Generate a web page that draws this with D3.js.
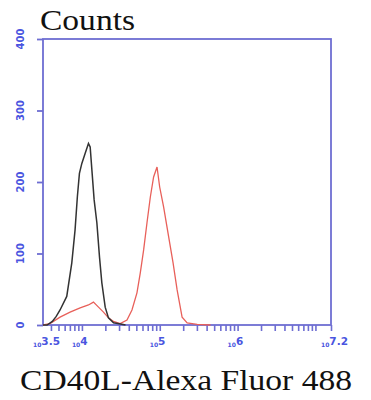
<!DOCTYPE html>
<html>
<head>
<meta charset="utf-8">
<script src="https://cdn.jsdelivr.net/npm/d3@7"></script>
<style>
  body { margin: 0; background: #fff; }
  svg { display: block; }
</style>
</head>
<body>
<svg id="chart" width="371" height="400"></svg>
<script>
// log10 of fluorescence and event counts
var blackLog = [3.5, 3.552, 3.62, 3.67, 3.719, 3.805, 3.870, 3.912, 3.942, 3.968, 3.999, 4.041, 4.084, 4.106, 4.128, 4.157, 4.192, 4.226, 4.256, 4.299, 4.341, 4.406, 4.514, 4.56];
var blackCounts = [0, 0, 5, 12, 21, 40, 87, 133, 180, 212, 226, 240, 254, 249, 217, 175, 143, 95, 59, 25, 10, 3, 1, 0];

var redLog = [3.5, 3.590, 3.719, 3.848, 3.977, 4.084, 4.148, 4.213, 4.277, 4.341, 4.406, 4.492, 4.579, 4.643, 4.707, 4.750, 4.793, 4.836, 4.879, 4.921, 4.965, 4.999, 5.050, 5.115, 5.171, 5.223, 5.287, 5.352, 5.481, 5.652];
var redCounts = [0, 2, 11, 18, 24, 28, 32, 25, 18, 10, 5, 2, 7, 21, 45, 73, 105, 143, 179, 207, 221, 193, 165, 123, 87, 49, 11, 3, 1, 0];

var yTicks = [0, 100, 200, 300, 400];
var xLabelExps = ["3.5", "4", "5", "6", "7.2"];

const axisColor = "#6e6ed2";
const labelColor = "#4a55e0";

const margin = { top: 39, right: 40, bottom: 75, left: 43 };
const width = 371, height = 400;

const svg = d3.select("#chart");

const x = d3.scaleLog()
  .domain([Math.pow(10, 3.5), Math.pow(10, 7.2)])
  .range([margin.left, width - margin.right]);

const y = d3.scaleLinear()
  .domain([0, 400])
  .range([height - margin.bottom, margin.top]);

// frame
svg.append("rect")
  .attr("x", margin.left)
  .attr("y", margin.top)
  .attr("width", width - margin.right - margin.left)
  .attr("height", height - margin.bottom - margin.top)
  .attr("fill", "none")
  .attr("stroke", axisColor)
  .attr("stroke-width", 1.8);

// y axis
const yAxis = svg.append("g")
  .attr("transform", `translate(${margin.left},0)`)
  .call(d3.axisLeft(y).tickValues(yTicks).tickSize(6).tickFormat(""));
yAxis.select(".domain").remove();
yAxis.selectAll("line").attr("stroke", axisColor).attr("stroke-width", 1.8);

svg.selectAll(".ylab")
  .data(yTicks)
  .enter().append("text")
  .attr("class", "ylab")
  .attr("transform", d => `translate(24,${y(d)}) rotate(-90)`)
  .attr("text-anchor", "middle")
  .attr("font-family", "DejaVu Sans")
  .attr("font-size", 10)
  .attr("font-weight", "bold")
  .attr("fill", labelColor)
  .text(d => d);

// x axis minor ticks: 2..9 x each decade, plus the ends
const xTickVals = [];
for (let e = 3; e <= 7; e++) {
  for (let m = 1; m <= 9; m++) {
    const v = m * Math.pow(10, e);
    if (v > x.domain()[0] && v < x.domain()[1]) xTickVals.push(v);
  }
}
xTickVals.push(x.domain()[1]);

const xAxis = svg.append("g")
  .attr("transform", `translate(0,${height - margin.bottom})`)
  .call(d3.axisBottom(x).tickValues(xTickVals).tickSize(6).tickFormat(""));
xAxis.select(".domain").remove();
xAxis.selectAll("line").attr("stroke", axisColor).attr("stroke-width", 1.6);

const xl = svg.selectAll(".xlab")
  .data(xLabelExps)
  .enter().append("text")
  .attr("class", "xlab")
  .attr("x", d => x(Math.pow(10, +d)) - 10)
  .attr("y", height - margin.bottom + 22)
  .attr("font-family", "DejaVu Sans")
  .attr("font-weight", "bold")
  .attr("fill", labelColor);
xl.append("tspan").attr("font-size", 6).text("10");
xl.append("tspan").attr("font-size", 10.5).attr("dy", -2).text(d => d);

// histograms
const line = d3.line()
  .x(d => x(Math.pow(10, d[0])))
  .y(d => y(d[1]));

svg.append("path")
  .datum(redLog.map((v, i) => [v, redCounts[i]]))
  .attr("d", line)
  .attr("fill", "none")
  .attr("stroke", "#e8605a")
  .attr("stroke-width", 1.3);

svg.append("path")
  .datum(blackLog.map((v, i) => [v, blackCounts[i]]))
  .attr("d", line)
  .attr("fill", "none")
  .attr("stroke", "#333")
  .attr("stroke-width", 1.5);

// titles
svg.append("text")
  .attr("x", 40)
  .attr("y", 30)
  .attr("font-family", "Liberation Serif")
  .attr("font-size", 29)
  .attr("textLength", 95)
  .attr("lengthAdjust", "spacingAndGlyphs")
  .attr("fill", "#111")
  .text("Counts");

svg.append("text")
  .attr("x", 20)
  .attr("y", 390)
  .attr("font-family", "Liberation Serif")
  .attr("font-size", 30)
  .attr("textLength", 332)
  .attr("lengthAdjust", "spacingAndGlyphs")
  .attr("fill", "#111")
  .text("CD40L-Alexa Fluor 488");
</script>
</body>
</html>
